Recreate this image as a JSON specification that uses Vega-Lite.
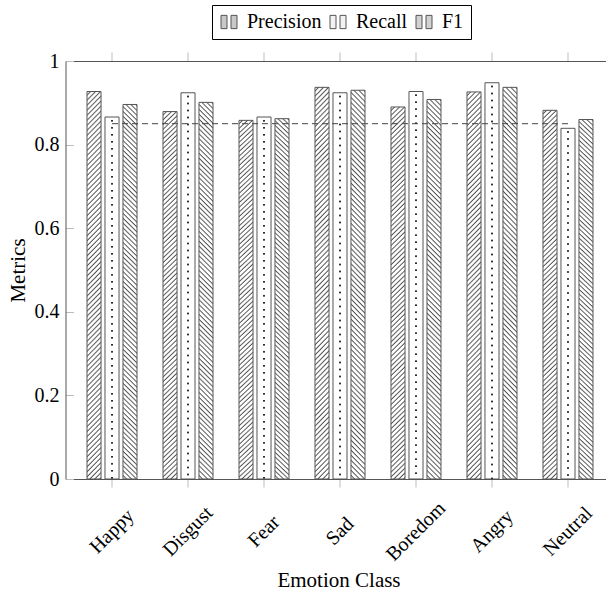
{
  "$schema": "https://vega.github.io/schema/vega-lite/v6.json",
  "autosize": "none",
  "width": 540.5,
  "height": 418,
  "padding": {"left": 65.5, "top": 61, "right": 0, "bottom": 116},
  "background": "white",
  "config": {
    "view": {"stroke": null},
    "font": "Liberation Serif",
    "legend": {"labelFont": "Liberation Serif", "titleFont": "Liberation Serif"},
    "axis": {"labelFont": "Liberation Serif", "titleFont": "Liberation Serif"}
  },
  "datasets": {
    "metrics": [
      {"Emotion": "Happy", "Metric": "Precision", "value": 0.927},
      {"Emotion": "Happy", "Metric": "Recall", "value": 0.866},
      {"Emotion": "Happy", "Metric": "F1", "value": 0.896},
      {"Emotion": "Disgust", "Metric": "Precision", "value": 0.879},
      {"Emotion": "Disgust", "Metric": "Recall", "value": 0.924},
      {"Emotion": "Disgust", "Metric": "F1", "value": 0.901},
      {"Emotion": "Fear", "Metric": "Precision", "value": 0.858},
      {"Emotion": "Fear", "Metric": "Recall", "value": 0.866},
      {"Emotion": "Fear", "Metric": "F1", "value": 0.862},
      {"Emotion": "Sad", "Metric": "Precision", "value": 0.937},
      {"Emotion": "Sad", "Metric": "Recall", "value": 0.924},
      {"Emotion": "Sad", "Metric": "F1", "value": 0.930},
      {"Emotion": "Boredom", "Metric": "Precision", "value": 0.890},
      {"Emotion": "Boredom", "Metric": "Recall", "value": 0.927},
      {"Emotion": "Boredom", "Metric": "F1", "value": 0.908},
      {"Emotion": "Angry", "Metric": "Precision", "value": 0.926},
      {"Emotion": "Angry", "Metric": "Recall", "value": 0.948},
      {"Emotion": "Angry", "Metric": "F1", "value": 0.937},
      {"Emotion": "Neutral", "Metric": "Precision", "value": 0.882},
      {"Emotion": "Neutral", "Metric": "Recall", "value": 0.839},
      {"Emotion": "Neutral", "Metric": "F1", "value": 0.860}
    ],
    "baseline": [
      {"Emotion": "Happy", "value": 0.85},
      {"Emotion": "Neutral", "value": 0.85}
    ]
  },
  "layer": [
    {
      "data": {"name": "metrics"},
      "mark": {"type": "bar", "opacity": 0},
      "encoding": {
        "x": {
          "field": "Emotion",
          "type": "nominal",
          "scale": {
            "domain": ["Happy", "Disgust", "Fear", "Sad", "Boredom", "Angry", "Neutral"],
            "range": [0, 549],
            "paddingInner": 0.342,
            "paddingOuter": 0.283
          },
          "axis": {
            "orient": "bottom",
            "title": "Emotion Class",
            "labelAngle": -45,
            "labelAlign": "center",
            "labelBaseline": "middle",
            "labelPadding": 44,
            "labelFontSize": 20,
            "labelColor": "black",
            "tickSize": 8,
            "tickColor": "#bbbbbb",
            "domainColor": "#555555",
            "titleFontSize": 21,
            "titleFontWeight": "normal",
            "titleColor": "black",
            "titleY": 101,
            "titleX": 273,
            "titleBaseline": "middle"
          }
        },
        "xOffset": {
          "field": "Metric",
          "type": "nominal",
          "scale": {"domain": ["Precision", "Recall", "F1"], "paddingInner": 0.22, "paddingOuter": 0}
        },
        "y": {
          "field": "value",
          "type": "quantitative",
          "scale": {"domain": [0, 1]},
          "axis": {
            "orient": "left",
            "title": "Metrics",
            "values": [0, 0.2, 0.4, 0.6, 0.8, 1],
            "format": ".1~f",
            "grid": false,
            "tickSize": -8,
            "tickColor": "#bbbbbb",
            "domainColor": "#555555",
            "labelFontSize": 20,
            "labelColor": "black",
            "labelPadding": 14.5,
            "titleFontSize": 21,
            "titleFontWeight": "normal",
            "titleColor": "black",
            "titleAngle": -90,
            "titleX": -47,
            "titleY": 209,
            "titleBaseline": "middle",
            "titleAlign": "center"
          }
        },
        "fill": {
          "field": "Metric",
          "type": "nominal",
          "scale": {"domain": ["Precision", "Recall", "F1"], "range": ["#c8c8c8", "#f2f2f2", "#d2d2d2"]},
          "legend": {
            "orient": "none",
            "legendX": 146.5,
            "legendY": -56,
            "direction": "horizontal",
            "title": null,
            "strokeColor": "black",
            "fillColor": "white",
            "padding": 7,
            "symbolType": "M-1,-0.83H-0.25V0.83H-1Z M0.25,-0.83H1V0.83H0.25Z",
            "symbolSize": 256,
            "symbolOpacity": 1,
            "symbolStrokeColor": "#555555",
            "symbolStrokeWidth": 1,
            "labelFontSize": 20,
            "labelFont": "Liberation Serif",
            "labelColor": "black",
            "labelOffset": 8,
            "columnPadding": 6,
            "encode": {
              "labels": {"update": {"font": {"value": "Liberation Serif"}}},
              "symbols": {
                "update": {
                  "stroke": {"value": "#555555"},
                  "strokeWidth": {"value": 1},
                  "opacity": {"value": 1},
                  "fill": [
                    {"test": "datum.value === 'Precision'", "value": {"gradient": "linear", "x1": 0, "y1": 0, "x2": 1.083, "y2": 0.9, "stops": [
                      {"offset":0,"color":"#fff"},{"offset":0.07,"color":"#fff"},{"offset":0.13,"color":"#555"},
                      {"offset":0.1667,"color":"#fff"},{"offset":0.2367,"color":"#fff"},{"offset":0.2967,"color":"#555"},
                      {"offset":0.3333,"color":"#fff"},{"offset":0.4033,"color":"#fff"},{"offset":0.4633,"color":"#555"},
                      {"offset":0.5,"color":"#fff"},{"offset":0.57,"color":"#fff"},{"offset":0.63,"color":"#555"},
                      {"offset":0.6667,"color":"#fff"},{"offset":0.7367,"color":"#fff"},{"offset":0.7967,"color":"#555"},
                      {"offset":0.8333,"color":"#fff"},{"offset":0.9033,"color":"#fff"},{"offset":0.9633,"color":"#555"},
                      {"offset":1,"color":"#fff"}]}},
                    {"test": "datum.value === 'F1'", "value": {"gradient": "linear", "x1": 0, "y1": 1, "x2": 1.083, "y2": 0.1, "stops": [
                      {"offset":0,"color":"#fff"},{"offset":0.07,"color":"#fff"},{"offset":0.13,"color":"#555"},
                      {"offset":0.1667,"color":"#fff"},{"offset":0.2367,"color":"#fff"},{"offset":0.2967,"color":"#555"},
                      {"offset":0.3333,"color":"#fff"},{"offset":0.4033,"color":"#fff"},{"offset":0.4633,"color":"#555"},
                      {"offset":0.5,"color":"#fff"},{"offset":0.57,"color":"#fff"},{"offset":0.63,"color":"#555"},
                      {"offset":0.6667,"color":"#fff"},{"offset":0.7367,"color":"#fff"},{"offset":0.7967,"color":"#555"},
                      {"offset":0.8333,"color":"#fff"},{"offset":0.9033,"color":"#fff"},{"offset":0.9633,"color":"#555"},
                      {"offset":1,"color":"#fff"}]}},
                    {"value": "#f0f0f0"}
                  ]
                }
              }
            }
          }
        }
      }
    },
    {
      "data": {"name": "metrics"},
      "transform": [{"filter": {"field": "Metric", "equal": "Precision"}}],
      "mark": {
        "type": "bar",
        "stroke": "#555555",
        "strokeWidth": 1,
        "fill": {
          "gradient": "linear",
          "x1": 0, "y1": 0, "x2": 0.0381, "y2": 1.0354,
          "stops": [
{"offset":0,"color":"#fff"},{"offset":0.0055,"color":"#fff"},{"offset":0.0095,"color":"#555"},{"offset":0.0125,"color":"#fff"},{"offset":0.018,"color":"#fff"},{"offset":0.022,"color":"#555"},{"offset":0.025,"color":"#fff"},{"offset":0.0305,"color":"#fff"},{"offset":0.0345,"color":"#555"},{"offset":0.0375,"color":"#fff"},{"offset":0.043,"color":"#fff"},{"offset":0.047,"color":"#555"},{"offset":0.05,"color":"#fff"},{"offset":0.0555,"color":"#fff"},{"offset":0.0595,"color":"#555"},{"offset":0.0625,"color":"#fff"},{"offset":0.068,"color":"#fff"},{"offset":0.072,"color":"#555"},{"offset":0.075,"color":"#fff"},{"offset":0.0805,"color":"#fff"},{"offset":0.0845,"color":"#555"},{"offset":0.0875,"color":"#fff"},{"offset":0.093,"color":"#fff"},{"offset":0.097,"color":"#555"},
{"offset":0.1,"color":"#fff"},{"offset":0.1055,"color":"#fff"},{"offset":0.1095,"color":"#555"},{"offset":0.1125,"color":"#fff"},{"offset":0.118,"color":"#fff"},{"offset":0.122,"color":"#555"},{"offset":0.125,"color":"#fff"},{"offset":0.1305,"color":"#fff"},{"offset":0.1345,"color":"#555"},{"offset":0.1375,"color":"#fff"},{"offset":0.143,"color":"#fff"},{"offset":0.147,"color":"#555"},{"offset":0.15,"color":"#fff"},{"offset":0.1555,"color":"#fff"},{"offset":0.1595,"color":"#555"},{"offset":0.1625,"color":"#fff"},{"offset":0.168,"color":"#fff"},{"offset":0.172,"color":"#555"},{"offset":0.175,"color":"#fff"},{"offset":0.1805,"color":"#fff"},{"offset":0.1845,"color":"#555"},{"offset":0.1875,"color":"#fff"},{"offset":0.193,"color":"#fff"},{"offset":0.197,"color":"#555"},
{"offset":0.2,"color":"#fff"},{"offset":0.2055,"color":"#fff"},{"offset":0.2095,"color":"#555"},{"offset":0.2125,"color":"#fff"},{"offset":0.218,"color":"#fff"},{"offset":0.222,"color":"#555"},{"offset":0.225,"color":"#fff"},{"offset":0.2305,"color":"#fff"},{"offset":0.2345,"color":"#555"},{"offset":0.2375,"color":"#fff"},{"offset":0.243,"color":"#fff"},{"offset":0.247,"color":"#555"},{"offset":0.25,"color":"#fff"},{"offset":0.2555,"color":"#fff"},{"offset":0.2595,"color":"#555"},{"offset":0.2625,"color":"#fff"},{"offset":0.268,"color":"#fff"},{"offset":0.272,"color":"#555"},{"offset":0.275,"color":"#fff"},{"offset":0.2805,"color":"#fff"},{"offset":0.2845,"color":"#555"},{"offset":0.2875,"color":"#fff"},{"offset":0.293,"color":"#fff"},{"offset":0.297,"color":"#555"},
{"offset":0.3,"color":"#fff"},{"offset":0.3055,"color":"#fff"},{"offset":0.3095,"color":"#555"},{"offset":0.3125,"color":"#fff"},{"offset":0.318,"color":"#fff"},{"offset":0.322,"color":"#555"},{"offset":0.325,"color":"#fff"},{"offset":0.3305,"color":"#fff"},{"offset":0.3345,"color":"#555"},{"offset":0.3375,"color":"#fff"},{"offset":0.343,"color":"#fff"},{"offset":0.347,"color":"#555"},{"offset":0.35,"color":"#fff"},{"offset":0.3555,"color":"#fff"},{"offset":0.3595,"color":"#555"},{"offset":0.3625,"color":"#fff"},{"offset":0.368,"color":"#fff"},{"offset":0.372,"color":"#555"},{"offset":0.375,"color":"#fff"},{"offset":0.3805,"color":"#fff"},{"offset":0.3845,"color":"#555"},{"offset":0.3875,"color":"#fff"},{"offset":0.393,"color":"#fff"},{"offset":0.397,"color":"#555"},
{"offset":0.4,"color":"#fff"},{"offset":0.4055,"color":"#fff"},{"offset":0.4095,"color":"#555"},{"offset":0.4125,"color":"#fff"},{"offset":0.418,"color":"#fff"},{"offset":0.422,"color":"#555"},{"offset":0.425,"color":"#fff"},{"offset":0.4305,"color":"#fff"},{"offset":0.4345,"color":"#555"},{"offset":0.4375,"color":"#fff"},{"offset":0.443,"color":"#fff"},{"offset":0.447,"color":"#555"},{"offset":0.45,"color":"#fff"},{"offset":0.4555,"color":"#fff"},{"offset":0.4595,"color":"#555"},{"offset":0.4625,"color":"#fff"},{"offset":0.468,"color":"#fff"},{"offset":0.472,"color":"#555"},{"offset":0.475,"color":"#fff"},{"offset":0.4805,"color":"#fff"},{"offset":0.4845,"color":"#555"},{"offset":0.4875,"color":"#fff"},{"offset":0.493,"color":"#fff"},{"offset":0.497,"color":"#555"},
{"offset":0.5,"color":"#fff"},{"offset":0.5055,"color":"#fff"},{"offset":0.5095,"color":"#555"},{"offset":0.5125,"color":"#fff"},{"offset":0.518,"color":"#fff"},{"offset":0.522,"color":"#555"},{"offset":0.525,"color":"#fff"},{"offset":0.5305,"color":"#fff"},{"offset":0.5345,"color":"#555"},{"offset":0.5375,"color":"#fff"},{"offset":0.543,"color":"#fff"},{"offset":0.547,"color":"#555"},{"offset":0.55,"color":"#fff"},{"offset":0.5555,"color":"#fff"},{"offset":0.5595,"color":"#555"},{"offset":0.5625,"color":"#fff"},{"offset":0.568,"color":"#fff"},{"offset":0.572,"color":"#555"},{"offset":0.575,"color":"#fff"},{"offset":0.5805,"color":"#fff"},{"offset":0.5845,"color":"#555"},{"offset":0.5875,"color":"#fff"},{"offset":0.593,"color":"#fff"},{"offset":0.597,"color":"#555"},
{"offset":0.6,"color":"#fff"},{"offset":0.6055,"color":"#fff"},{"offset":0.6095,"color":"#555"},{"offset":0.6125,"color":"#fff"},{"offset":0.618,"color":"#fff"},{"offset":0.622,"color":"#555"},{"offset":0.625,"color":"#fff"},{"offset":0.6305,"color":"#fff"},{"offset":0.6345,"color":"#555"},{"offset":0.6375,"color":"#fff"},{"offset":0.643,"color":"#fff"},{"offset":0.647,"color":"#555"},{"offset":0.65,"color":"#fff"},{"offset":0.6555,"color":"#fff"},{"offset":0.6595,"color":"#555"},{"offset":0.6625,"color":"#fff"},{"offset":0.668,"color":"#fff"},{"offset":0.672,"color":"#555"},{"offset":0.675,"color":"#fff"},{"offset":0.6805,"color":"#fff"},{"offset":0.6845,"color":"#555"},{"offset":0.6875,"color":"#fff"},{"offset":0.693,"color":"#fff"},{"offset":0.697,"color":"#555"},
{"offset":0.7,"color":"#fff"},{"offset":0.7055,"color":"#fff"},{"offset":0.7095,"color":"#555"},{"offset":0.7125,"color":"#fff"},{"offset":0.718,"color":"#fff"},{"offset":0.722,"color":"#555"},{"offset":0.725,"color":"#fff"},{"offset":0.7305,"color":"#fff"},{"offset":0.7345,"color":"#555"},{"offset":0.7375,"color":"#fff"},{"offset":0.743,"color":"#fff"},{"offset":0.747,"color":"#555"},{"offset":0.75,"color":"#fff"},{"offset":0.7555,"color":"#fff"},{"offset":0.7595,"color":"#555"},{"offset":0.7625,"color":"#fff"},{"offset":0.768,"color":"#fff"},{"offset":0.772,"color":"#555"},{"offset":0.775,"color":"#fff"},{"offset":0.7805,"color":"#fff"},{"offset":0.7845,"color":"#555"},{"offset":0.7875,"color":"#fff"},{"offset":0.793,"color":"#fff"},{"offset":0.797,"color":"#555"},
{"offset":0.8,"color":"#fff"},{"offset":0.8055,"color":"#fff"},{"offset":0.8095,"color":"#555"},{"offset":0.8125,"color":"#fff"},{"offset":0.818,"color":"#fff"},{"offset":0.822,"color":"#555"},{"offset":0.825,"color":"#fff"},{"offset":0.8305,"color":"#fff"},{"offset":0.8345,"color":"#555"},{"offset":0.8375,"color":"#fff"},{"offset":0.843,"color":"#fff"},{"offset":0.847,"color":"#555"},{"offset":0.85,"color":"#fff"},{"offset":0.8555,"color":"#fff"},{"offset":0.8595,"color":"#555"},{"offset":0.8625,"color":"#fff"},{"offset":0.868,"color":"#fff"},{"offset":0.872,"color":"#555"},{"offset":0.875,"color":"#fff"},{"offset":0.8805,"color":"#fff"},{"offset":0.8845,"color":"#555"},{"offset":0.8875,"color":"#fff"},{"offset":0.893,"color":"#fff"},{"offset":0.897,"color":"#555"},
{"offset":0.9,"color":"#fff"},{"offset":0.9055,"color":"#fff"},{"offset":0.9095,"color":"#555"},{"offset":0.9125,"color":"#fff"},{"offset":0.918,"color":"#fff"},{"offset":0.922,"color":"#555"},{"offset":0.925,"color":"#fff"},{"offset":0.9305,"color":"#fff"},{"offset":0.9345,"color":"#555"},{"offset":0.9375,"color":"#fff"},{"offset":0.943,"color":"#fff"},{"offset":0.947,"color":"#555"},{"offset":0.95,"color":"#fff"},{"offset":0.9555,"color":"#fff"},{"offset":0.9595,"color":"#555"},{"offset":0.9625,"color":"#fff"},{"offset":0.968,"color":"#fff"},{"offset":0.972,"color":"#555"},{"offset":0.975,"color":"#fff"},{"offset":0.9805,"color":"#fff"},{"offset":0.9845,"color":"#555"},{"offset":0.9875,"color":"#fff"},{"offset":0.993,"color":"#fff"},{"offset":0.997,"color":"#555"},
{"offset":1,"color":"#fff"}
          ]
        }
      },
      "encoding": {
        "x": {"field": "Emotion", "type": "nominal", "axis": null},
        "xOffset": {"field": "Metric", "type": "nominal", "scale": {"domain": ["Precision", "Recall", "F1"], "paddingInner": 0.22, "paddingOuter": 0}},
        "y": {"field": "value", "type": "quantitative", "axis": null}
      }
    },
    {
      "data": {"name": "metrics"},
      "transform": [{"filter": {"field": "Metric", "equal": "Recall"}}],
      "mark": {"type": "bar", "stroke": "#555555", "strokeWidth": 1, "fill": "white"},
      "encoding": {
        "x": {"field": "Emotion", "type": "nominal", "axis": null},
        "xOffset": {"field": "Metric", "type": "nominal", "scale": {"domain": ["Precision", "Recall", "F1"], "paddingInner": 0.22, "paddingOuter": 0}},
        "y": {"field": "value", "type": "quantitative", "axis": null}
      }
    },
    {
      "data": {"name": "metrics"},
      "transform": [{"filter": {"field": "Metric", "equal": "Recall"}}],
      "mark": {"type": "rule", "color": "#222222", "strokeWidth": 1.5, "strokeDash": [1.5, 5.5], "strokeDashOffset": 4, "xOffset": -3.5},
      "encoding": {
        "x": {"field": "Emotion", "type": "nominal", "axis": null},
        "xOffset": {"field": "Metric", "type": "nominal", "scale": {"domain": ["Precision", "Recall", "F1"], "paddingInner": 0.22, "paddingOuter": 0}},
        "y": {"field": "value", "type": "quantitative", "axis": null},
        "y2": {"datum": 0}
      }
    },
    {
      "data": {"name": "metrics"},
      "transform": [{"filter": {"field": "Metric", "equal": "Recall"}}],
      "mark": {"type": "rule", "color": "#222222", "strokeWidth": 1.5, "strokeDash": [1.5, 5.5], "strokeDashOffset": 4, "xOffset": 3.5},
      "encoding": {
        "x": {"field": "Emotion", "type": "nominal", "axis": null},
        "xOffset": {"field": "Metric", "type": "nominal", "scale": {"domain": ["Precision", "Recall", "F1"], "paddingInner": 0.22, "paddingOuter": 0}},
        "y": {"field": "value", "type": "quantitative", "axis": null},
        "y2": {"datum": 0}
      }
    },
    {
      "data": {"name": "metrics"},
      "transform": [{"filter": {"field": "Metric", "equal": "F1"}}],
      "mark": {
        "type": "bar",
        "stroke": "#555555",
        "strokeWidth": 1,
        "fill": {
          "gradient": "linear",
          "x1": 0, "y1": 1, "x2": 0.0381, "y2": -0.0354,
          "stops": [
{"offset":0,"color":"#fff"},{"offset":0.0055,"color":"#fff"},{"offset":0.0095,"color":"#555"},{"offset":0.0125,"color":"#fff"},{"offset":0.018,"color":"#fff"},{"offset":0.022,"color":"#555"},{"offset":0.025,"color":"#fff"},{"offset":0.0305,"color":"#fff"},{"offset":0.0345,"color":"#555"},{"offset":0.0375,"color":"#fff"},{"offset":0.043,"color":"#fff"},{"offset":0.047,"color":"#555"},{"offset":0.05,"color":"#fff"},{"offset":0.0555,"color":"#fff"},{"offset":0.0595,"color":"#555"},{"offset":0.0625,"color":"#fff"},{"offset":0.068,"color":"#fff"},{"offset":0.072,"color":"#555"},{"offset":0.075,"color":"#fff"},{"offset":0.0805,"color":"#fff"},{"offset":0.0845,"color":"#555"},{"offset":0.0875,"color":"#fff"},{"offset":0.093,"color":"#fff"},{"offset":0.097,"color":"#555"},
{"offset":0.1,"color":"#fff"},{"offset":0.1055,"color":"#fff"},{"offset":0.1095,"color":"#555"},{"offset":0.1125,"color":"#fff"},{"offset":0.118,"color":"#fff"},{"offset":0.122,"color":"#555"},{"offset":0.125,"color":"#fff"},{"offset":0.1305,"color":"#fff"},{"offset":0.1345,"color":"#555"},{"offset":0.1375,"color":"#fff"},{"offset":0.143,"color":"#fff"},{"offset":0.147,"color":"#555"},{"offset":0.15,"color":"#fff"},{"offset":0.1555,"color":"#fff"},{"offset":0.1595,"color":"#555"},{"offset":0.1625,"color":"#fff"},{"offset":0.168,"color":"#fff"},{"offset":0.172,"color":"#555"},{"offset":0.175,"color":"#fff"},{"offset":0.1805,"color":"#fff"},{"offset":0.1845,"color":"#555"},{"offset":0.1875,"color":"#fff"},{"offset":0.193,"color":"#fff"},{"offset":0.197,"color":"#555"},
{"offset":0.2,"color":"#fff"},{"offset":0.2055,"color":"#fff"},{"offset":0.2095,"color":"#555"},{"offset":0.2125,"color":"#fff"},{"offset":0.218,"color":"#fff"},{"offset":0.222,"color":"#555"},{"offset":0.225,"color":"#fff"},{"offset":0.2305,"color":"#fff"},{"offset":0.2345,"color":"#555"},{"offset":0.2375,"color":"#fff"},{"offset":0.243,"color":"#fff"},{"offset":0.247,"color":"#555"},{"offset":0.25,"color":"#fff"},{"offset":0.2555,"color":"#fff"},{"offset":0.2595,"color":"#555"},{"offset":0.2625,"color":"#fff"},{"offset":0.268,"color":"#fff"},{"offset":0.272,"color":"#555"},{"offset":0.275,"color":"#fff"},{"offset":0.2805,"color":"#fff"},{"offset":0.2845,"color":"#555"},{"offset":0.2875,"color":"#fff"},{"offset":0.293,"color":"#fff"},{"offset":0.297,"color":"#555"},
{"offset":0.3,"color":"#fff"},{"offset":0.3055,"color":"#fff"},{"offset":0.3095,"color":"#555"},{"offset":0.3125,"color":"#fff"},{"offset":0.318,"color":"#fff"},{"offset":0.322,"color":"#555"},{"offset":0.325,"color":"#fff"},{"offset":0.3305,"color":"#fff"},{"offset":0.3345,"color":"#555"},{"offset":0.3375,"color":"#fff"},{"offset":0.343,"color":"#fff"},{"offset":0.347,"color":"#555"},{"offset":0.35,"color":"#fff"},{"offset":0.3555,"color":"#fff"},{"offset":0.3595,"color":"#555"},{"offset":0.3625,"color":"#fff"},{"offset":0.368,"color":"#fff"},{"offset":0.372,"color":"#555"},{"offset":0.375,"color":"#fff"},{"offset":0.3805,"color":"#fff"},{"offset":0.3845,"color":"#555"},{"offset":0.3875,"color":"#fff"},{"offset":0.393,"color":"#fff"},{"offset":0.397,"color":"#555"},
{"offset":0.4,"color":"#fff"},{"offset":0.4055,"color":"#fff"},{"offset":0.4095,"color":"#555"},{"offset":0.4125,"color":"#fff"},{"offset":0.418,"color":"#fff"},{"offset":0.422,"color":"#555"},{"offset":0.425,"color":"#fff"},{"offset":0.4305,"color":"#fff"},{"offset":0.4345,"color":"#555"},{"offset":0.4375,"color":"#fff"},{"offset":0.443,"color":"#fff"},{"offset":0.447,"color":"#555"},{"offset":0.45,"color":"#fff"},{"offset":0.4555,"color":"#fff"},{"offset":0.4595,"color":"#555"},{"offset":0.4625,"color":"#fff"},{"offset":0.468,"color":"#fff"},{"offset":0.472,"color":"#555"},{"offset":0.475,"color":"#fff"},{"offset":0.4805,"color":"#fff"},{"offset":0.4845,"color":"#555"},{"offset":0.4875,"color":"#fff"},{"offset":0.493,"color":"#fff"},{"offset":0.497,"color":"#555"},
{"offset":0.5,"color":"#fff"},{"offset":0.5055,"color":"#fff"},{"offset":0.5095,"color":"#555"},{"offset":0.5125,"color":"#fff"},{"offset":0.518,"color":"#fff"},{"offset":0.522,"color":"#555"},{"offset":0.525,"color":"#fff"},{"offset":0.5305,"color":"#fff"},{"offset":0.5345,"color":"#555"},{"offset":0.5375,"color":"#fff"},{"offset":0.543,"color":"#fff"},{"offset":0.547,"color":"#555"},{"offset":0.55,"color":"#fff"},{"offset":0.5555,"color":"#fff"},{"offset":0.5595,"color":"#555"},{"offset":0.5625,"color":"#fff"},{"offset":0.568,"color":"#fff"},{"offset":0.572,"color":"#555"},{"offset":0.575,"color":"#fff"},{"offset":0.5805,"color":"#fff"},{"offset":0.5845,"color":"#555"},{"offset":0.5875,"color":"#fff"},{"offset":0.593,"color":"#fff"},{"offset":0.597,"color":"#555"},
{"offset":0.6,"color":"#fff"},{"offset":0.6055,"color":"#fff"},{"offset":0.6095,"color":"#555"},{"offset":0.6125,"color":"#fff"},{"offset":0.618,"color":"#fff"},{"offset":0.622,"color":"#555"},{"offset":0.625,"color":"#fff"},{"offset":0.6305,"color":"#fff"},{"offset":0.6345,"color":"#555"},{"offset":0.6375,"color":"#fff"},{"offset":0.643,"color":"#fff"},{"offset":0.647,"color":"#555"},{"offset":0.65,"color":"#fff"},{"offset":0.6555,"color":"#fff"},{"offset":0.6595,"color":"#555"},{"offset":0.6625,"color":"#fff"},{"offset":0.668,"color":"#fff"},{"offset":0.672,"color":"#555"},{"offset":0.675,"color":"#fff"},{"offset":0.6805,"color":"#fff"},{"offset":0.6845,"color":"#555"},{"offset":0.6875,"color":"#fff"},{"offset":0.693,"color":"#fff"},{"offset":0.697,"color":"#555"},
{"offset":0.7,"color":"#fff"},{"offset":0.7055,"color":"#fff"},{"offset":0.7095,"color":"#555"},{"offset":0.7125,"color":"#fff"},{"offset":0.718,"color":"#fff"},{"offset":0.722,"color":"#555"},{"offset":0.725,"color":"#fff"},{"offset":0.7305,"color":"#fff"},{"offset":0.7345,"color":"#555"},{"offset":0.7375,"color":"#fff"},{"offset":0.743,"color":"#fff"},{"offset":0.747,"color":"#555"},{"offset":0.75,"color":"#fff"},{"offset":0.7555,"color":"#fff"},{"offset":0.7595,"color":"#555"},{"offset":0.7625,"color":"#fff"},{"offset":0.768,"color":"#fff"},{"offset":0.772,"color":"#555"},{"offset":0.775,"color":"#fff"},{"offset":0.7805,"color":"#fff"},{"offset":0.7845,"color":"#555"},{"offset":0.7875,"color":"#fff"},{"offset":0.793,"color":"#fff"},{"offset":0.797,"color":"#555"},
{"offset":0.8,"color":"#fff"},{"offset":0.8055,"color":"#fff"},{"offset":0.8095,"color":"#555"},{"offset":0.8125,"color":"#fff"},{"offset":0.818,"color":"#fff"},{"offset":0.822,"color":"#555"},{"offset":0.825,"color":"#fff"},{"offset":0.8305,"color":"#fff"},{"offset":0.8345,"color":"#555"},{"offset":0.8375,"color":"#fff"},{"offset":0.843,"color":"#fff"},{"offset":0.847,"color":"#555"},{"offset":0.85,"color":"#fff"},{"offset":0.8555,"color":"#fff"},{"offset":0.8595,"color":"#555"},{"offset":0.8625,"color":"#fff"},{"offset":0.868,"color":"#fff"},{"offset":0.872,"color":"#555"},{"offset":0.875,"color":"#fff"},{"offset":0.8805,"color":"#fff"},{"offset":0.8845,"color":"#555"},{"offset":0.8875,"color":"#fff"},{"offset":0.893,"color":"#fff"},{"offset":0.897,"color":"#555"},
{"offset":0.9,"color":"#fff"},{"offset":0.9055,"color":"#fff"},{"offset":0.9095,"color":"#555"},{"offset":0.9125,"color":"#fff"},{"offset":0.918,"color":"#fff"},{"offset":0.922,"color":"#555"},{"offset":0.925,"color":"#fff"},{"offset":0.9305,"color":"#fff"},{"offset":0.9345,"color":"#555"},{"offset":0.9375,"color":"#fff"},{"offset":0.943,"color":"#fff"},{"offset":0.947,"color":"#555"},{"offset":0.95,"color":"#fff"},{"offset":0.9555,"color":"#fff"},{"offset":0.9595,"color":"#555"},{"offset":0.9625,"color":"#fff"},{"offset":0.968,"color":"#fff"},{"offset":0.972,"color":"#555"},{"offset":0.975,"color":"#fff"},{"offset":0.9805,"color":"#fff"},{"offset":0.9845,"color":"#555"},{"offset":0.9875,"color":"#fff"},{"offset":0.993,"color":"#fff"},{"offset":0.997,"color":"#555"},
{"offset":1,"color":"#fff"}
          ]
        }
      },
      "encoding": {
        "x": {"field": "Emotion", "type": "nominal", "axis": null},
        "xOffset": {"field": "Metric", "type": "nominal", "scale": {"domain": ["Precision", "Recall", "F1"], "paddingInner": 0.22, "paddingOuter": 0}},
        "y": {"field": "value", "type": "quantitative", "axis": null}
      }
    },
    {
      "data": {"name": "baseline"},
      "mark": {"type": "line", "strokeDash": [6, 4], "color": "#444444", "strokeWidth": 1},
      "encoding": {
        "x": {
          "field": "Emotion",
          "type": "nominal",
          "axis": {
            "orient": "top",
            "labels": false,
            "title": null,
            "tickSize": 9,
            "tickColor": "#bbbbbb",
            "domainColor": "#555555"
          }
        },
        "y": {"field": "value", "type": "quantitative", "axis": null}
      }
    }
  ],
  "resolve": {"axis": {"x": "independent", "y": "independent"}}
}
